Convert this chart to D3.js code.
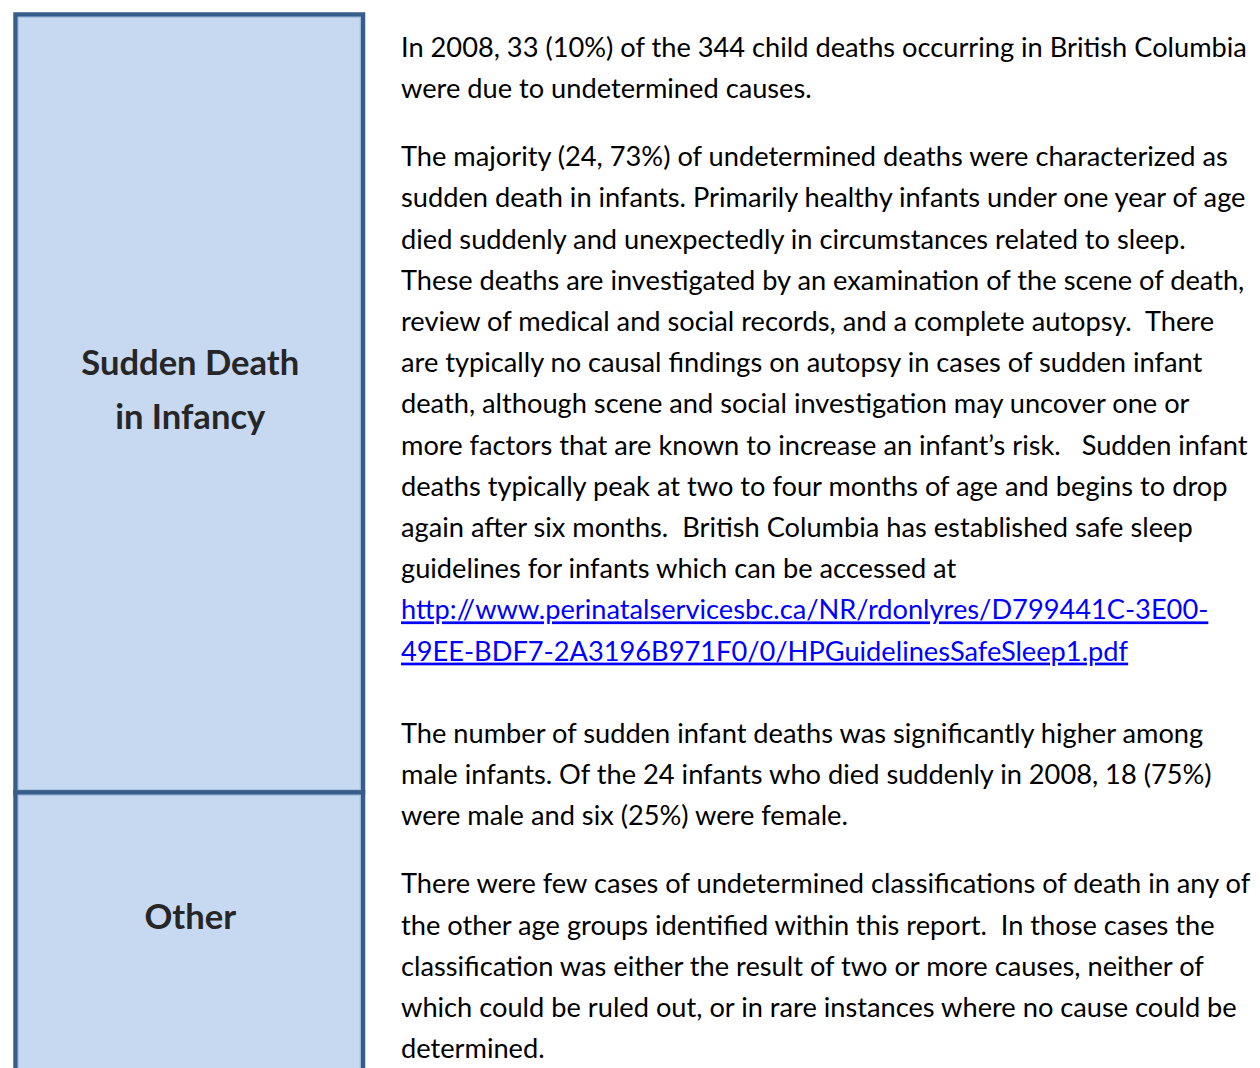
<!DOCTYPE html>
<html>
<head>
<meta charset="utf-8">
<script src="https://cdn.jsdelivr.net/npm/d3@7"></script>
<style>
  body { margin: 0; background: #fff; }
  svg { display: block; }
</style>
</head>
<body>
<script>
var width = 1260;
var height = 1068;

// single stacked column: undetermined deaths in 2008 by type
var categories = ['Sudden Death in Infancy', 'Other'];
var labelLines = [['Sudden Death', 'in Infancy'], ['Other']];
var values = [24, 9];

// explanatory text, one array per paragraph, broken into lines as in the report
var para1 = [
  'In 2008, 33 (10%) of the 344 child deaths occurring in British Columbia',
  'were due to undetermined causes.'
];
var para2 = [
  'The majority (24, 73%) of undetermined deaths were characterized as',
  'sudden death in infants. Primarily healthy infants under one year of age',
  'died suddenly and unexpectedly in circumstances related to sleep.',
  'These deaths are investigated by an examination of the scene of death,',
  'review of medical and social records, and a complete autopsy.  There',
  'are typically no causal findings on autopsy in cases of sudden infant',
  'death, although scene and social investigation may uncover one or',
  'more factors that are known to increase an infant\u2019s risk.   Sudden infant',
  'deaths typically peak at two to four months of age and begins to drop',
  'again after six months.  British Columbia has established safe sleep',
  'guidelines for infants which can be accessed at'
];
var linkLines = [
  'http://www.perinatalservicesbc.ca/NR/rdonlyres/D799441C-3E00-',
  '49EE-BDF7-2A3196B971F0/0/HPGuidelinesSafeSleep1.pdf'
];
var para3 = [
  'The number of sudden infant deaths was significantly higher among',
  'male infants. Of the 24 infants who died suddenly in 2008, 18 (75%)',
  'were male and six (25%) were female.'
];
var para4 = [
  'There were few cases of undetermined classifications of death in any of',
  'the other age groups identified within this report.  In those cases the',
  'classification was either the result of two or more causes, neither of',
  'which could be ruled out, or in rare instances where no cause could be',
  'determined.'
];

var fontFamily = 'Lato, "Open Sans", "DejaVu Sans", sans-serif';

var svg = d3.select('body').append('svg')
  .attr('width', width)
  .attr('height', height);

// ---- the column ----
var total = d3.sum(values);
var barTop = 14.5;
var unit = (792.5 - barTop) / values[0];
var y = d3.scaleLinear().domain([0, total]).range([barTop, barTop + total * unit]);
var x = d3.scaleBand().domain(['col']).range([15.5, 363]).padding(0);

var stack = [];
var cum = 0;
values.forEach(function (v, i) {
  stack.push({ name: categories[i], lines: labelLines[i], y0: cum, y1: cum + v });
  cum += v;
});

var seg = svg.selectAll('g.seg')
  .data(stack)
  .enter()
  .append('g')
  .attr('class', 'seg');

seg.append('rect')
  .attr('x', x('col'))
  .attr('y', function (d) { return y(d.y0); })
  .attr('width', x.bandwidth())
  .attr('height', function (d) { return y(d.y1) - y(d.y0); })
  .style('fill', '#c6d9f1')
  .style('stroke', '#385d8a')
  .style('stroke-width', 4.5);

// thin light edge just inside the outline
seg.append('rect')
  .attr('x', x('col') + 2.75)
  .attr('y', function (d) { return y(d.y0) + 2.75; })
  .attr('width', x.bandwidth() - 5.5)
  .attr('height', function (d) { return y(d.y1) - y(d.y0) - 5.5; })
  .style('fill', 'none')
  .style('stroke', '#9fbbe0')
  .style('stroke-width', 1);

// labels, centred in the visible part of each segment
var labelSize = 34;
var labelLead = 54;
seg.each(function (d) {
  var g = d3.select(this);
  var top = y(d.y0);
  var bottom = Math.min(y(d.y1), height);
  var mid = (top + bottom) / 2 - 13;
  var n = d.lines.length;
  g.selectAll('text')
    .data(d.lines)
    .enter()
    .append('text')
    .attr('x', x('col') + x.bandwidth() / 2 + 1)
    .attr('y', function (t, j) { return mid + (j - (n - 1) / 2) * labelLead + labelSize * 0.35; })
    .attr('text-anchor', 'middle')
    .style('font-family', fontFamily)
    .style('font-weight', 'bold')
    .style('font-size', labelSize + 'px')
    .style('fill', '#262626')
    .text(function (t) { return t; });
});

// fit label size so "Sudden Death" spans about 218px
var probe = seg.select('text').node();
var k = 218 / probe.getComputedTextLength();
labelSize = labelSize * k;
seg.selectAll('text').style('font-size', labelSize + 'px');

// ---- the text block ----
var textX = 401;
var lead = 41.2;
var blocks = [
  { lines: para1, step: 0, link: false },
  { lines: para2, step: 68, link: false },
  { lines: linkLines, step: lead, link: true },
  { lines: para3, step: lead * 2, link: false },
  { lines: para4, step: 68, link: false }
];

var rows = [];
var base = 57;
blocks.forEach(function (b, bi) {
  b.lines.forEach(function (t, j) {
    if (bi > 0 || j > 0) base += (j === 0 ? b.step : lead);
    rows.push({ text: t, y: base, link: b.link });
  });
});

var body = svg.append('g').attr('class', 'body');
var fontSize = 24;
var lineText = body.selectAll('text')
  .data(rows)
  .enter()
  .append('text')
  .attr('x', textX)
  .attr('y', function (d) { return d.y; })
  .style('font-family', fontFamily)
  .style('font-size', fontSize + 'px')
  .style('fill', function (d) { return d.link ? '#0000ff' : '#000'; })
  .style('text-decoration', function (d) { return d.link ? 'underline' : 'none'; })
  .style('white-space', 'pre')
  .attr('xml:space', 'preserve')
  .text(function (d) { return d.text; });

// scale body text so the first and longest lines match the page widths
var n0 = lineText.filter(function (d, i) { return i === 0; }).node();
var n1 = lineText.filter(function (d, i) { return i === 3; }).node();
var s = (837 / n0.getComputedTextLength() + 854 / n1.getComputedTextLength()) / 2;
lineText.style('font-size', (fontSize * s) + 'px');
</script>
</body>
</html>
